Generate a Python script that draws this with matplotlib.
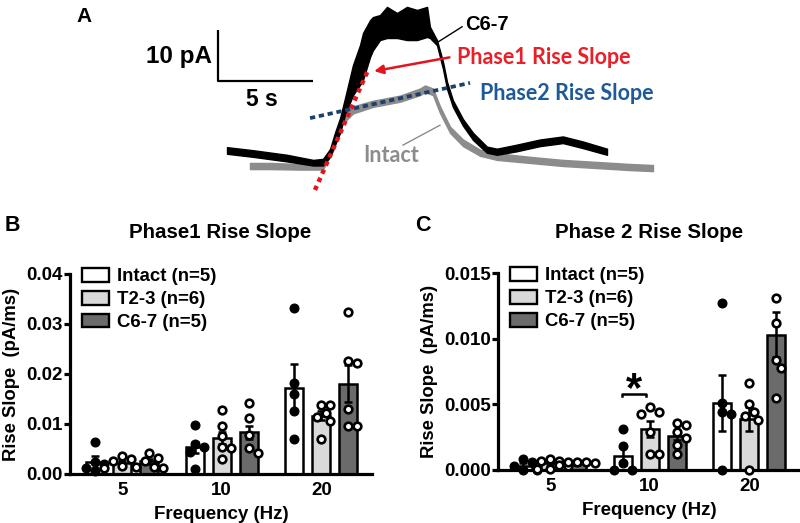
import numpy as np
import matplotlib
matplotlib.use("Agg")
import matplotlib.pyplot as plt
from matplotlib.patches import Patch

plt.rcParams["font.family"] = ["Liberation Sans", "DejaVu Sans"]
plt.rcParams["font.weight"] = "bold"
plt.rcParams["axes.labelweight"] = "bold"

# -----------------------------
# Panel A: example traces (time in s, current in pA)
# -----------------------------
c67_t = [0, 1.37, 3.16, 4.53, 5.05, 5.42, 5.68, 5.95, 6.21, 6.63, 7.0, 7.16, 7.53, 7.68,
         8.05, 8.42, 8.95, 9.47, 10.0, 10.53, 10.68, 11.05, 11.37, 11.58, 11.89, 12.42,
         12.95, 13.68, 14.21, 15.26, 16.47, 17.68, 18.74, 20.0]
c67_hi = [3.5, 2.9, 2.0, 1.0, 1.2, 3.1, 6.3, 9.2, 13.1, 19.6, 23.5, 25.9, 28.4, 29.0,
          29.4, 31.0, 29.8, 31.0, 30.4, 31.0, 27.1, 24.5, 20.2, 16.3, 12.7, 9.0,
          6.3, 3.6, 3.2, 4.0, 5.0, 5.6, 4.6, 3.2]
c67_lo = [2.2, 1.6, 0.7, -0.1, -0.1, 1.6, 3.9, 6.3, 9.8, 13.7, 15.7, 16.7, 21.2, 22.5,
          24.5, 24.9, 24.9, 24.5, 24.5, 25.1, 24.9, 23.5, 18.8, 14.9, 11.4, 7.7,
          4.9, 2.4, 2.0, 2.7, 3.7, 4.3, 3.3, 2.0]

intact_t = [1.21, 2.26, 3.84, 5.05, 5.58, 5.95, 6.63, 7.68, 9.1, 10.16, 10.42, 10.84,
            11.21, 11.74, 12.42, 13.32, 14.21, 15.95, 17.68, 19.47, 21.21, 22.42]
intact_hi = [0.4, 0.4, 0.2, 0.2, 4.1, 9.0, 11.5, 12.6, 13.6, 15.0, 15.6, 15.0,
             11.5, 7.5, 5.0, 3.0, 2.3, 1.6, 1.0, 0.6, 0.2, 0.0]
intact_lo = [-0.8, -0.8, -0.9, -0.9, 2.8, 7.6, 10.1, 11.4, 12.4, 13.7, 14.3, 13.7,
             10.2, 6.3, 3.7, 1.8, 1.0, 0.4, -0.2, -0.6, -1.0, -1.2]

phase1_fit_t = [4.63, 7.47]
phase1_fit_i = [-4.9, 19.0]
phase2_fit_t = [4.37, 12.79]
phase2_fit_i = [9.2, 16.1]

# -----------------------------
# Panels B / C: bar data
# -----------------------------
groups = ["Intact (n=5)", "T2-3 (n=6)", "C6-7 (n=5)"]
freq_labels = ["5", "10", "20"]

p1_mean = [[0.0025, 0.0054, 0.0173],
           [0.0023, 0.0072, 0.0117],
           [0.0026, 0.0084, 0.0181]]
p1_sem = [[0.0012, 0.0011, 0.0047],
          [0.0004, 0.0012, 0.0009],
          [0.0005, 0.0013, 0.0037]]
p1_points = [
    [[0.0065, 0.0024, 0.0020, 0.0013, 0.0006],
     [0.0098, 0.0060, 0.0055, 0.0044, 0.0010],
     [0.0333, 0.0183, 0.0160, 0.0127, 0.0070]],
    [[0.0036, 0.0030, 0.0027, 0.0017, 0.0014, 0.0012],
     [0.0129, 0.0097, 0.0076, 0.0055, 0.0052, 0.0030],
     [0.0139, 0.0139, 0.0122, 0.0114, 0.0106, 0.0071]],
    [[0.0043, 0.0033, 0.0027, 0.0015, 0.0013],
     [0.0142, 0.0113, 0.0079, 0.0052, 0.0042],
     [0.0324, 0.0226, 0.0222, 0.0130, 0.0097, 0.0097]],
]

p2_mean = [[0.0003, 0.0011, 0.0051],
           [0.0005, 0.0031, 0.0039],
           [0.0005, 0.0026, 0.0103]]
p2_sem = [[0.0002, 0.0007, 0.0021],
          [0.0001, 0.0006, 0.0009],
          [0.0001, 0.0003, 0.0017]]
p2_points = [
    [[0.0008, 0.0006, 0.0003, 0.0, 0.0],
     [0.0031, 0.0018, 0.0005, 0.0, 0.0],
     [0.0127, 0.0051, 0.0044, 0.0043, 0.0]],
    [[0.0008, 0.0007, 0.0007, 0.0003, 0.0001, 0.0001],
     [0.0048, 0.0044, 0.0043, 0.0029, 0.0012, 0.0012],
     [0.0066, 0.0050, 0.0044, 0.0041, 0.0038, 0.0]],
    [[0.0006, 0.0006, 0.0006, 0.0005, 0.0004],
     [0.0036, 0.0034, 0.0029, 0.0024, 0.0019, 0.0012],
     [0.0131, 0.0112, 0.0084, 0.0078, 0.0055]],
]

p1_ticks = [0.0, 0.01, 0.02, 0.03, 0.04]
p1_ticklabels = ["0.00", "0.01", "0.02", "0.03", "0.04"]
p2_ticks = [0.0, 0.005, 0.010, 0.015]
p2_ticklabels = ["0.000", "0.005", "0.010", "0.015"]

fills = ["white", "#d9d9d9", "#6b6b6b"]
offsets = [-0.27, 0.0, 0.27]

W, H = 800, 523
fig = plt.figure(figsize=(8, 5.23), dpi=100)


def fx(px):
    return px / W


def fy(py):
    return 1 - py / H


# -----------------------------
# Panel A
# -----------------------------
PX_S, PX_PA = 19.0, 5.1
axA = fig.add_axes([0, fy(200), 1, 200 / H])
axA.set_xlim(-227 / PX_S, (W - 227) / PX_S)
axA.set_ylim((165 - 200) / PX_PA, 165 / PX_PA)
axA.axis("off")

axA.fill_between(intact_t, intact_lo, intact_hi, color="#8c8c8c", lw=1.0, edgecolor="#8c8c8c", zorder=1)
axA.fill_between(c67_t, c67_lo, c67_hi, color="black", lw=1.0, edgecolor="black", zorder=2)
axA.plot(phase1_fit_t, phase1_fit_i, color="#e3141b", lw=3.2, ls=(0, (1.0, 1.0)), zorder=3)
axA.plot(phase2_fit_t, phase2_fit_i, color="#1c416e", lw=2.7, ls=(0, (1.4, 1.0)), zorder=3)

# scale bar: 5 s / 10 pA
sb_t, sb_i = -0.47, 16.5
axA.plot([sb_t, sb_t, sb_t + 5], [sb_i + 10, sb_i, sb_i], color="black", lw=1.6, solid_capstyle="butt")

axA.annotate("", xy=(7.6, 18.3), xytext=(11.85, 21.2),
             arrowprops=dict(arrowstyle="-|>", color="#e3141b", lw=1.8, mutation_scale=13))
axA.plot([12.37, 11.1], [27.1, 24.1], color="black", lw=1.0)
axA.plot([9.26, 11.21], [3.9, 7.8], color="#8c8c8c", lw=1.0)

fig.text(fx(76), fy(17), "A", fontsize=15, va="center", ha="left")
fig.text(fx(212), fy(57), "10 pA", fontsize=17.5, va="center", ha="right")
fig.text(fx(262), fy(100), "5 s", fontsize=16.5, va="center", ha="center")
fig.text(fx(465), fy(25), "C6-7", fontsize=14.5, va="center", ha="left")
fig.text(fx(457), fy(57), "Phase1 Rise Slope", fontsize=15.5, va="center", ha="left",
         color="#e8202a", family=["Lato", "DejaVu Sans"])
fig.text(fx(480), fy(93), "Phase2 Rise Slope", fontsize=15.5, va="center", ha="left",
         color="#1f5a98", family=["Lato", "DejaVu Sans"])
fig.text(fx(363), fy(155), "Intact", fontsize=15.5, va="center", ha="left",
         color="#8c8c8c", family=["Lato", "DejaVu Sans"])


# -----------------------------
# Panels B / C
# -----------------------------
def swarm(ax, xc, vals, d=9.0):
    vals = np.asarray(vals, dtype=float)
    pts = ax.transData.transform(np.column_stack([np.full(len(vals), xc), vals]))
    x0 = pts[0, 0]
    placed = []
    xs_px = np.zeros(len(vals))
    for i in np.argsort(-vals, kind="stable"):
        y = pts[i, 1]
        for k in [0, 1, -1, 2, -2, 3, -3, 4, -4]:
            cx = x0 + k * d * 0.5
            if all((cx - px) ** 2 + (y - py) ** 2 >= d * d for px, py in placed):
                break
        placed.append((cx, y))
        xs_px[i] = cx
    back = ax.transData.inverted().transform(np.column_stack([xs_px, pts[:, 1]]))
    return back[:, 0]


def bar_panel(rect, means, sems, points, ticks, ticklabels, ymax, label_x):
    ax = fig.add_axes(rect)
    ax.set_xlim(-0.525, 2.51)
    ax.set_ylim(0, ymax)
    for k in range(3):
        for gi in range(3):
            x = gi + offsets[k]
            ax.bar(x, means[k][gi], width=0.18, color=fills[k], edgecolor="black",
                   linewidth=1.8, zorder=2)
            ax.errorbar(x, means[k][gi], yerr=sems[k][gi], fmt="none", ecolor="black",
                        elinewidth=1.8, capsize=3, capthick=1.8, zorder=3)
            xs = swarm(ax, x, points[k][gi])
            if k == 0:
                ax.plot(xs, points[k][gi], "o", ms=6.2, mfc="black", mec="black",
                        mew=1.0, zorder=4, clip_on=False)
            else:
                ax.plot(xs, points[k][gi], "o", ms=5.5, mfc="white", mec="black",
                        mew=1.9, zorder=4, clip_on=False)
    for s in ["top", "right"]:
        ax.spines[s].set_visible(False)
    for s in ["left", "bottom"]:
        ax.spines[s].set_linewidth(2.3)
    ax.set_yticks(ticks)
    ax.set_yticklabels(ticklabels)
    ax.set_xticks([0, 1, 2])
    ax.set_xticklabels(freq_labels)
    ax.tick_params(axis="y", length=4, width=2.3, labelsize=13.5, pad=1)
    ax.tick_params(axis="x", length=0, labelsize=13.5, pad=6)
    ax.set_xlabel("Frequency (Hz)", fontsize=13.5, labelpad=5)
    ax.set_ylabel("Rise Slope  (pA/ms)", fontsize=13.3)
    ax.yaxis.set_label_coords(label_x, 0.5)
    handles = [Patch(facecolor=fills[k], edgecolor="black", linewidth=1.7, label=groups[k])
               for k in range(3)]
    ax.legend(handles=handles, loc="upper left", bbox_to_anchor=(0.04, 1.03), frameon=False,
              prop={"weight": "bold", "size": 13.4}, handlelength=1.45, handleheight=0.75,
              handletextpad=0.45, labelspacing=0.3, borderpad=0, borderaxespad=0)
    return ax


axB = bar_panel([fx(70), fy(474), 302 / W, 200 / H], p1_mean, p1_sem, p1_points,
                p1_ticks, p1_ticklabels, 0.04, -0.165)
axC = bar_panel([fx(498), fy(470), 302 / W, 197 / H], p2_mean, p2_sem, p2_points,
                p2_ticks, p2_ticklabels, 0.015, -0.2)

# significance bracket, 10 Hz Intact vs T2-3
axC.plot([0.72, 0.72, 0.96, 0.96], [0.0056, 0.0058, 0.0058, 0.0056], color="black", lw=1.8)
axC.text(0.84, 0.0061, "*", fontsize=30, ha="center", va="center")

fig.text(fx(220), fy(232), "Phase1 Rise Slope", fontsize=14.8, ha="center", va="center")
fig.text(fx(649), fy(233), "Phase 2 Rise Slope", fontsize=14.8, ha="center", va="center")
fig.text(fx(5), fy(226), "B", fontsize=15.5, ha="left", va="center")
fig.text(fx(415), fy(226), "C", fontsize=15.5, ha="left", va="center")

fig.savefig("out.png", dpi=100)
